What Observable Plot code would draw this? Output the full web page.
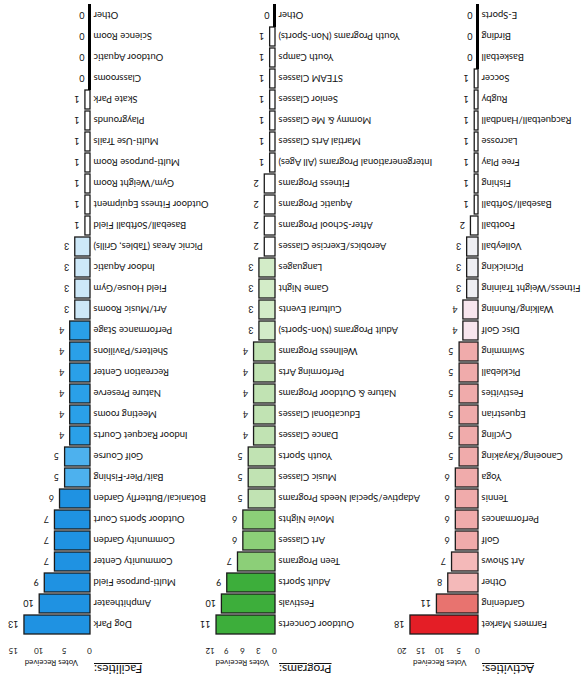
<!DOCTYPE html>
<html><head><meta charset="utf-8">
<script src="https://cdn.jsdelivr.net/npm/d3@7"></script>
<script src="https://cdn.jsdelivr.net/npm/@observablehq/plot@0.6"></script>
<style>
html,body{margin:0;padding:0;background:#fff;overflow:hidden}
#stage{position:relative;width:586px;height:684px;transform:rotate(180deg);transform-origin:50% 50%;font-family:Lato,"Open Sans",sans-serif;background:#fff}
#stage svg{position:absolute;left:0;top:0;background:transparent}
.title{position:absolute;top:7px;font-size:12px;text-decoration:underline;color:#111;white-space:nowrap;text-align:right}
</style></head><body><div id="stage"></div>
<script>
// ---- Activities ----
const activityNames = ["Farmers Market","Gardening","Other","Art Shows","Golf","Performances","Tennis","Yoga","Canoeing/Kayaking","Cycling","Equestrian","Festivities","Pickleball","Swimming","Disc Golf","Walking/Running","Fitness/Weight Training","Picnicking","Volleyball","Football","Baseball/Softball","Fishing","Free Play","Lacrosse","Racquetball/Handball","Rugby","Soccer","Basketball","Birding","E-Sports"];
const activityVotes = [18,11,8,7,6,6,6,6,5,5,5,5,5,5,4,4,3,3,3,2,1,1,1,1,1,1,1,0,0,0];
const activityTicks = [0,5,10,15,20];

// ---- Programs ----
const programNames = ["Outdoor Concerts","Festivals","Adult Sports","Teen Programs","Art Classes","Movie Nights","Adaptive/Special Needs Programs","Music Classes","Youth Sports","Dance Classes","Educational Classes","Nature & Outdoor Programs","Performing Arts","Wellness Programs","Adult Programs (Non-Sports)","Cultural Events","Game Night","Languages","Aerobics/Exercise Classes","After-School Programs","Aquatic Programs","Fitness Programs","Intergenerational Programs (All Ages)","Martial Arts Classes","Mommy & Me Classes","Senior Classes","STEAM Classes","Youth Camps","Youth Programs (Non-Sports)","Other"];
const programVotes = [11,10,9,7,6,6,5,5,5,4,4,4,4,4,3,3,3,3,2,2,2,2,1,1,1,1,1,1,1,0];
const programTicks = [0,3,6,9,12];

// ---- Facilities ----
const facilityNames = ["Dog Park","Amphitheater","Multi-purpose Field","Community Center","Community Garden","Outdoor Sports Court","Botanical/Butterfly Garden","Bait/Pier-Fishing","Golf Course","Indoor Racquet Courts","Meeting rooms","Nature Preserve","Recreation Center","Shelters/Pavilions","Performance Stage","Art/Music Rooms","Field House/Gym","Indoor Aquatic","Picnic Areas (Tables, Grills)","Baseball/Softball Field","Outdoor Fitness Equipment","Gym/Weight Room","Multi-purpose Room","Multi-Use Trails","Playgrounds","Skate Park","Classrooms","Outdoor Aquatic","Science Room","Other"];
const facilityVotes = [13,10,9,7,7,7,6,5,5,4,4,4,4,4,4,3,3,3,3,1,1,1,1,1,1,1,0,0,0,0];
const facilityTicks = [0,5,10,15];

const titles = ["Activities:","Programs:","Facilities:"];
const axisLabel = "Votes Received";

const redOf = v => v >= 18 ? "#e41e26" : v >= 11 ? "#e8736f" : v >= 7 ? "#f4b9b9" : v >= 5 ? "#f0abab" : v >= 4 ? "#f8e6ee" : v >= 3 ? "#efeff3" : "#ffffff";
const greenOf = v => v >= 9 ? "#3dae3b" : v >= 6 ? "#8ccf78" : v >= 4 ? "#c1e3b3" : v >= 3 ? "#d3ecc8" : "#ffffff";
const blueOf = v => v >= 6 ? "#1f92e2" : v >= 5 ? "#4db1ee" : v >= 4 ? "#2aa0e8" : v >= 3 ? "#cde8f8" : "#ffffff";

const W = 586, H = 684;
const stage = document.getElementById("stage");

function panel(names, votes, colorOf, ticks, title, base, pxPerUnit) {
  const data = names.map((name, i) => ({name, v: votes[i]}));
  const max = ticks[ticks.length - 1];
  const span = max * pxPerUnit;
  const chart = Plot.plot({
    width: W, height: H,
    marginLeft: base, marginRight: W - base - span,
    marginTop: 44.3, marginBottom: 0.3,
    style: {background: "transparent", fontFamily: "Lato, 'Open Sans', sans-serif", fontSize: "9.5px", color: "#111", overflow: "visible"},
    x: {domain: [0, max]},
    y: {domain: names, padding: 0.08},
    marks: [
      Plot.axisX({anchor: "top", ticks, tickSize: 0, tickPadding: 9, fontSize: 8, label: axisLabel, labelAnchor: "center", labelArrow: "none", labelOffset: 26}),
      Plot.axisY({anchor: "left", tickSize: 0, tickPadding: 4, label: null}),
      Plot.barX(data.filter(d => d.v > 0), {x: "v", y: "name", fill: d => colorOf(d.v), stroke: "#1b1b1b", strokeWidth: 1.3}),
      Plot.tickX(data.filter(d => d.v === 0), {x: "v", y: "name", stroke: "#000", strokeWidth: 3, insetTop: -2, insetBottom: -2}),
      Plot.text(data, {x: "v", y: "name", text: d => String(d.v), dx: 5, textAnchor: "start", fontSize: 9})
    ]
  });
  stage.appendChild(chart);
  const t = document.createElement("div");
  t.className = "title";
  t.textContent = title;
  t.style.right = (W - base + 4) + "px";
  stage.appendChild(t);
}

panel(activityNames, activityVotes, redOf, activityTicks, titles[0], 108, 3.78);
panel(programNames, programVotes, greenOf, programTicks, titles[1], 311, 5.36);
panel(facilityNames, facilityVotes, blueOf, facilityTicks, titles[2], 496, 5.08);
</script>
</body></html>
